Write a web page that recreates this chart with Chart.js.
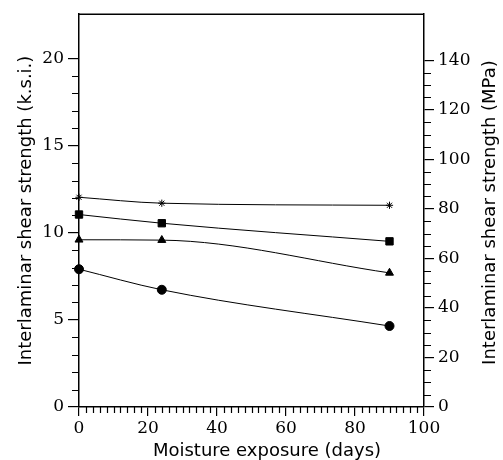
<!DOCTYPE html>
<html>
<head>
<meta charset="utf-8">
<script src="https://cdn.jsdelivr.net/npm/chart.js@4.4.1/dist/chart.umd.min.js"></script>
<style>
  html, body { margin: 0; padding: 0; background: #fff; }
  canvas { display: block; }
</style>
</head>
<body>
<canvas id="chart" width="503" height="460"></canvas>
<script>
// values (ksi)
const days = [0, 24, 90];
const starSeries = [12.04, 11.70, 11.58];
const squareSeries = [11.05, 10.55, 9.51];
const triangleSeries = [9.60, 9.58, 7.70];
const circleSeries = [7.91, 6.73, 4.65];

const xTicks = [0, 20, 40, 60, 80, 100];
const ksiTicks = [0, 5, 10, 15, 20];
const mpaTicks = [0, 20, 40, 60, 80, 100, 120, 140];

const ksiMax = 22.55;
const mpaMax = 158.6; // the printed MPa scale runs ~7x the ksi scale

const tickFont = {family: '"DejaVu Serif", serif', size: 17};
const titleCss = '18px "DejaVu Sans", sans-serif';

function series(values, style, radius) {
  return {
    data: values.map((v, i) => ({x: days[i], y: v})),
    borderColor: '#000',
    backgroundColor: '#000',
    borderWidth: 1,
    pointStyle: style,
    pointRadius: radius,
    pointBorderWidth: 1,
    cubicInterpolationMode: 'monotone',
    clip: false,
    yAxisID: 'y'
  };
}

// minor ticks, top frame line, x title and the right-hand title
const extras = {
  id: 'extras',
  afterDraw(chart) {
    const ctx = chart.ctx;
    const a = chart.chartArea;
    const {x, y, y2} = chart.scales;
    ctx.save();
    ctx.strokeStyle = '#000';
    ctx.lineWidth = 1.2;
    ctx.beginPath();
    for (let d = 2; d < 100; d += 2) {
      if (d % 20 === 0) continue;
      const px = Math.round(x.getPixelForValue(d)) + 0.5;
      ctx.moveTo(px, a.bottom); ctx.lineTo(px, a.bottom + 6);
    }
    for (let k = 1; k < 20; k++) {
      if (k % 5 === 0) continue;
      const py = Math.round(y.getPixelForValue(k)) + 0.5;
      ctx.moveTo(a.left, py); ctx.lineTo(a.left - 7, py);
    }
    for (let m = 5; m < 140; m += 5) {
      if (m % 20 === 0) continue;
      const py = Math.round(y2.getPixelForValue(m)) + 0.5;
      ctx.moveTo(a.right, py); ctx.lineTo(a.right + 7, py);
    }
    ctx.stroke();

    ctx.lineWidth = 1.5;
    ctx.beginPath();
    ctx.moveTo(a.left, a.top); ctx.lineTo(a.right, a.top);
    ctx.stroke();

    ctx.fillStyle = '#000';
    ctx.font = titleCss;
    ctx.textAlign = 'center';
    ctx.textBaseline = 'middle';
    ctx.fillText('Moisture exposure (days)', 267, 451);

    ctx.translate(490, (a.top + a.bottom) / 2 + 2);
    ctx.rotate(-Math.PI / 2);
    ctx.fillText('Interlaminar shear strength (MPa)', 0, 0);
    ctx.restore();
  }
};

new Chart(document.getElementById('chart'), {
  type: 'line',
  data: {
    datasets: [
      series(starSeries, 'star', 3.6),
      series(squareSeries, 'rect', 5.2),
      series(triangleSeries, 'triangle', 4.6),
      series(circleSeries, 'circle', 4.5)
    ]
  },
  options: {
    responsive: false,
    animation: false,
    layout: {padding: {top: 12, left: 0, right: 0, bottom: 0}},
    plugins: {legend: {display: false}, tooltip: {enabled: false}},
    scales: {
      x: {
        type: 'linear',
        min: 0,
        max: 100,
        afterFit: s => { s.height = 53; },
        afterBuildTicks: s => { s.ticks = xTicks.map(v => ({value: v})); },
        border: {color: '#000', width: 1.5},
        grid: {drawOnChartArea: false, color: '#000', tickLength: 9, lineWidth: 1.2},
        ticks: {color: '#000', font: tickFont, padding: 2, maxRotation: 0}
      },
      y: {
        position: 'left',
        min: 0,
        max: ksiMax,
        afterFit: s => { s.width = 79; },
        afterBuildTicks: s => { s.ticks = ksiTicks.map(v => ({value: v})); },
        border: {color: '#000', width: 1.5},
        grid: {drawOnChartArea: false, color: '#000', tickLength: 11, lineWidth: 1.2},
        ticks: {color: '#000', font: tickFont, padding: 4},
        title: {
          display: true, text: 'Interlaminar shear strength (k.s.i.)', color: '#000',
          font: {family: '"DejaVu Sans", sans-serif', size: 18, lineHeight: 1.2},
          padding: {top: 16, bottom: 0}
        }
      },
      y2: {
        position: 'right',
        min: 0,
        max: mpaMax,
        afterFit: s => { s.width = 79; },
        afterBuildTicks: s => { s.ticks = mpaTicks.map(v => ({value: v})); },
        border: {color: '#000', width: 1.5},
        grid: {drawOnChartArea: false, color: '#000', tickLength: 10, lineWidth: 1.2},
        ticks: {color: '#000', font: tickFont, padding: 4}
      }
    }
  },
  plugins: [extras]
});
</script>
</body>
</html>
